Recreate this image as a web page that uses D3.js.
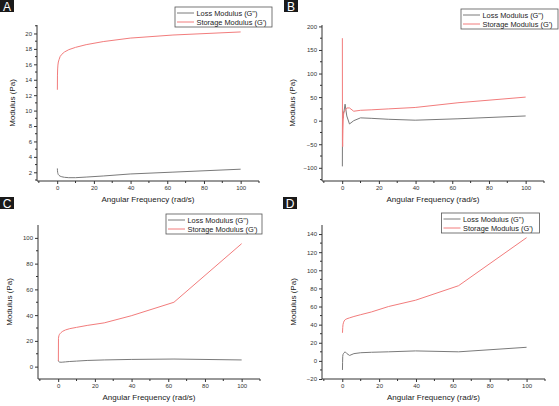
<!DOCTYPE html>
<html><head><meta charset="utf-8">
<script src="https://cdn.jsdelivr.net/npm/d3@7"></script>
<style>
html,body{margin:0;padding:0;background:#fff;}
svg{display:block;font-family:"Liberation Sans",Arial,sans-serif;}
</style></head>
<body><svg id="c" width="559" height="406"></svg>
<script>
// Angular frequency (rad/s), log-spaced sweep
const freq = [0.1,0.158,0.251,0.398,0.631,1,1.58,2.51,3.98,6.31,10,15.8,25.1,39.8,63.1,100];
// Panel A
const aLoss    = [2.5,2.2,2.0,1.85,1.7,1.6,1.5,1.42,1.35,1.3,1.3,1.38,1.52,1.78,2.02,2.4];
const aStorage = [12.7,14.6,15.4,15.9,16.3,16.6,17.0,17.3,17.6,17.9,18.2,18.55,18.95,19.4,19.8,20.2];
// Panel B
const bLoss    = [-97,-10,20,5,15,20,35,10,-7,0,6,5,3,1,4,10];
const bStorage = [175,-40,-55,-20,10,18,22,27,27,20,22,23,25,28,38,50];
// Panel C
const cLoss    = [5,4.2,4,3.8,3.6,3.5,3.4,3.5,3.7,4,4.3,4.8,5.2,5.6,5.9,5.2];
const cStorage = [4.5,22,23,24,25,25.5,26.5,27.5,28.5,29.5,30.5,32,34,39.5,50,95.5];
// Panel D
const dLoss    = [-10,-2,5,7,8,9,10,8,6,8,9,9.5,10,11,10,15];
const dStorage = [31,33,37,40,42,44,45.5,46.5,47.5,49,51,54,60,67,83,136];

const xTicks = [0,20,40,60,80,100];
const aTicks = [2,4,6,8,10,12,14,16,18,20];
const bTicks = [-100,-50,0,50,100,150,200];
const cTicks = [0,20,40,60,80,100];
const dTicks = [-20,0,20,40,60,80,100,120,140];
const legendLabels = ['Loss Modulus (G")', "Storage Modulus (G')"];
const xTitle = "Angular Frequency (rad/s)";
const yTitle = "Modulus (Pa)";

const LOSS_C = "#7a7a7a", STOR_C = "#f27c7c";
const svg = d3.select("#c");

function panel(p){
  const g = svg.append("g");
  const x = d3.scaleLinear().domain([-11,110]).range([p.l, p.r]);
  const y = d3.scaleLinear().domain(p.yd).range([p.b, p.t]);
  // minor ticks
  const xMinor = d3.range(-10,111,10).filter(v=>!xTicks.includes(v));
  const yMinor = d3.range(p.yd[0]-p.yd[0]%p.minor, p.yd[1], p.minor).filter(v=>!p.ticks.includes(v) && v>=p.yd[0] && v<=p.yd[1]);
  const xa = g.append("g").attr("transform",`translate(0,${p.b})`)
    .call(d3.axisBottom(x).tickValues(xTicks).tickSize(3).tickPadding(2));
  xa.append("g").selectAll("line").data(xMinor).join("line")
    .attr("x1",d=>x(d)).attr("x2",d=>x(d)).attr("y1",0).attr("y2",2).attr("stroke","#333");
  const ya = g.append("g").attr("transform",`translate(${p.l},0)`)
    .call(d3.axisLeft(y).tickValues(p.ticks).tickSize(3).tickPadding(2));
  ya.append("g").selectAll("line").data(yMinor).join("line")
    .attr("y1",d=>y(d)).attr("y2",d=>y(d)).attr("x1",0).attr("x2",-2).attr("stroke","#333");
  [xa,ya].forEach(a=>{
    a.select(".domain").attr("stroke","#333").attr("d", null);
    a.selectAll(".tick line").attr("stroke","#333");
    a.selectAll("text").attr("font-size",6).attr("fill","#333").attr("font-family","Liberation Sans, Arial, sans-serif");
  });
  xa.select(".domain").attr("d",`M${p.l},0H${p.r}`);
  ya.select(".domain").attr("d",`M0,${p.b}V${p.t}`);
  // titles
  g.append("text").attr("x",(p.l+p.r)/2).attr("y",p.b+21).attr("text-anchor","middle")
    .attr("font-size",8).attr("fill","#222").text(xTitle);
  g.append("text").attr("transform",`translate(${p.yt},${(p.t+p.b)/2}) rotate(-90)`)
    .attr("text-anchor","middle").attr("font-size",8).attr("fill","#222").text(yTitle);
  // lines
  const line = d3.line().x((d,i)=>x(freq[i])).y(d=>y(d));
  g.append("path").datum(p.loss).attr("d",line).attr("fill","none").attr("stroke",LOSS_C).attr("stroke-width",1);
  g.append("path").datum(p.stor).attr("d",line).attr("fill","none").attr("stroke",STOR_C).attr("stroke-width",1);
  // legend
  const lg = g.append("g").attr("transform",`translate(${p.lx},${p.ly})`);
  lg.append("rect").attr("x",0.5).attr("y",0.5).attr("width",p.lw).attr("height",20)
    .attr("fill","#fff").attr("stroke","#555").attr("stroke-width",0.8);
  [LOSS_C,STOR_C].forEach((c,i)=>{
    const yy = 6.5+i*9;
    lg.append("line").attr("x1",2.5).attr("x2",19.5).attr("y1",yy).attr("y2",yy).attr("stroke",c).attr("stroke-width",1);
    lg.append("text").attr("x",22).attr("y",yy+2.6).attr("font-size",7.4).attr("fill","#222").text(legendLabels[i]);
  });
  // panel letter
  g.append("rect").attr("x",p.tx).attr("y",p.ty).attr("width",14).attr("height",12).attr("fill","#1a1a1a");
  g.append("text").attr("x",p.tx+7).attr("y",p.ty+10.5).attr("text-anchor","middle")
    .attr("font-size",12).attr("fill","#fff").text(p.label);
}

panel({label:"A",tx:0,ty:0,l:37,r:259,t:25,b:181,yd:[0.87,21.1],ticks:aTicks,minor:1,yt:15,
  loss:aLoss,stor:aStorage,lx:174.5,ly:6.5,lw:97});
panel({label:"B",tx:284,ty:0,l:322,r:544,t:25,b:181,yd:[-128,203],ticks:bTicks,minor:25,yt:295,
  loss:bLoss,stor:bStorage,lx:460.5,ly:8.5,lw:97});
panel({label:"C",tx:0,ty:197,l:38,r:260,t:225,b:379,yd:[-9.6,110],ticks:cTicks,minor:10,yt:12,
  loss:cLoss,stor:cStorage,lx:165.5,ly:213.5,lw:96});
panel({label:"D",tx:283,ty:197,l:322,r:545,t:225,b:379,yd:[-20,150],ticks:dTicks,minor:10,yt:296,
  loss:dLoss,stor:dStorage,lx:441,ly:212.5,lw:98});
</script></body></html>
